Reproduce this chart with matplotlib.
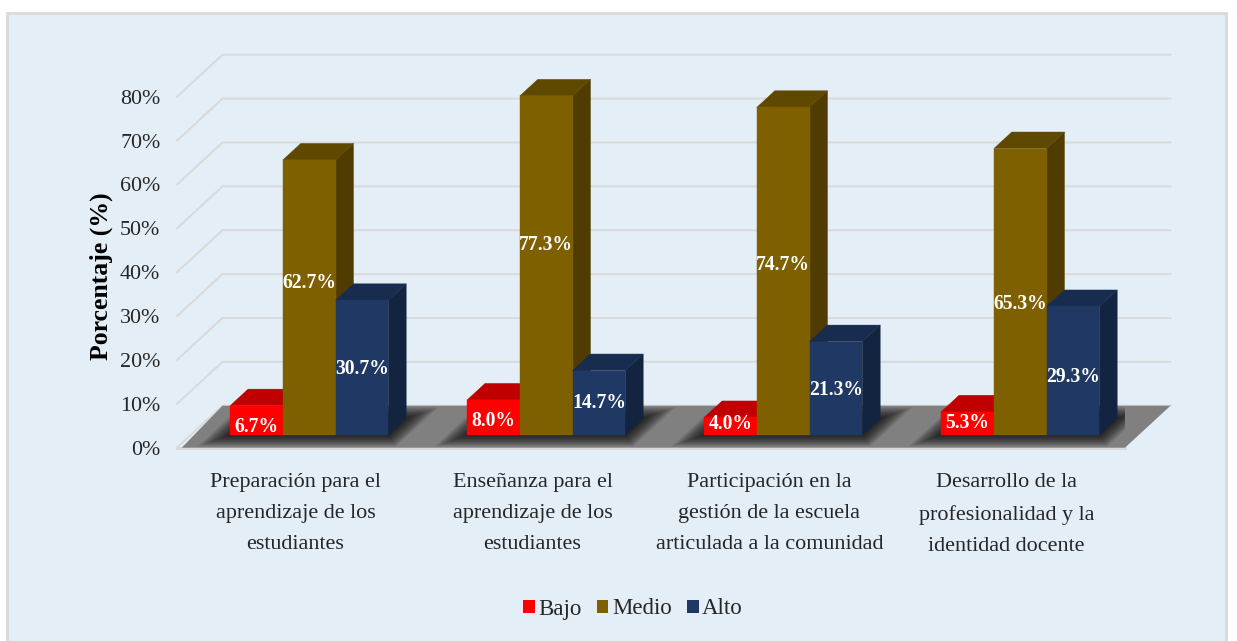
import matplotlib
matplotlib.use("Agg")
import matplotlib.pyplot as plt
from matplotlib.patches import Polygon, Rectangle, Patch

plt.rcParams['font.family'] = ['Liberation Serif', 'DejaVu Serif']

categories = ["Preparación para el\naprendizaje de los\nestudiantes",
              "Enseñanza para el\naprendizaje de los\nestudiantes",
              "Participación en la\ngestión de la escuela\narticulada a la comunidad",
              "Desarrollo de la\nprofesionalidad y la\nidentidad docente"]
bajo = [6.7, 8.0, 4.0, 5.3]
medio = [62.7, 77.3, 74.7, 65.3]
alto = [30.7, 14.7, 21.3, 29.3]
series_names = ["Bajo", "Medio", "Alto"]
y_ticks = [0, 10, 20, 30, 40, 50, 60, 70, 80]

W, H = 1237, 641
BG = '#E3EEF7'
GRID = '#D9D9D9'
FACE = ['#FF0000', '#7F6000', '#1F3864']
TOP = ['#C00000', '#5F4800', '#182C4F']
SIDE = ['#A80000', '#503C00', '#132441']
# small manual nudges of the value labels (in % units), as seen in the reference
NUDGE = [[-1.5, -0.7, 0.5, 0.0],
         [3.2, 4.6, 1.4, -2.8],
         [-0.2, 0.0, -0.3, -1.4]]

DX, DY = 0.192, 9.57        # oblique depth vector of the whole floor
Z0, Z1 = 0.302, 0.695       # bar front / back depth
BAR = 0.2224


def pr(x, y, z):
    return (x + z * DX, y + z * DY)


def poly(pts, color, z):
    ax.add_patch(Polygon(pts, facecolor=color, edgecolor=color, linewidth=0.3,
                         clip_on=False, zorder=z))


fig = plt.figure(figsize=(W / 100, H / 100), dpi=100, facecolor='white')
fig.add_artist(Rectangle((7 / W, -0.02), (1226 - 7) / W, 1.02 - 13 / H,
                         transform=fig.transFigure, facecolor=BG,
                         edgecolor=GRID, linewidth=2, zorder=-5))
ax = fig.add_axes([177 / W, 1 - 447.7 / H, (1125 - 177) / W, 351 / H])
ax.patch.set_alpha(0)
ax.set_xlim(0, 4)
ax.set_ylim(0, 80)
for s in ax.spines.values():
    s.set_visible(False)

# walls / gridlines
for v in y_ticks:
    a, b, c = pr(0, v, 0), pr(0, v, 1), pr(4, v, 1)
    ax.plot([a[0], b[0], c[0]], [a[1], b[1], c[1]], color=GRID, lw=1.4,
            clip_on=False, zorder=1, solid_joinstyle='miter')
ax.plot([0, 4], [0, 0], color=GRID, lw=2.2, clip_on=False, zorder=1)

# floor
floor = Polygon([pr(0.02, 0, 0), pr(4, 0, 0), pr(4, 0, 1), pr(0, 0, 1)],
                closed=True, facecolor='#808080', edgecolor='none',
                clip_on=False, zorder=2)
ax.add_patch(floor)

# soft shadow on the floor around each group
for i in range(4):
    xl = i + 0.5 - 1.5 * BAR
    xr = i + 0.5 + 1.5 * BAR
    steps = 14
    for k in range(steps):
        e = (steps - k) / steps
        ex, ez = 0.085 * e, 0.27 * e
        sh = Polygon([pr(xl - ex, 0, Z0 - ez), pr(xr + ex, 0, Z0 - ez),
                      pr(xr + ex, 0, Z1 + ez), pr(xl - ex, 0, Z1 + ez)],
                     closed=True, facecolor='black', alpha=0.075,
                     edgecolor='none', zorder=2.5)
        ax.add_patch(sh)
        sh.set_clip_path(floor)

# 3D bars
for s, vals in enumerate([bajo, medio, alto]):
    for i, v in enumerate(vals):
        x0 = i + 0.5 + (s - 1.5) * BAR
        x1 = x0 + BAR
        z = 3 + s * 0.1
        poly([pr(x1, 0, Z0), pr(x1, 0, Z1), pr(x1, v, Z1), pr(x1, v, Z0)], SIDE[s], z)
        poly([pr(x0, v, Z0), pr(x1, v, Z0), pr(x1, v, Z1), pr(x0, v, Z1)], TOP[s], z)
        poly([pr(x0, 0, Z0), pr(x1, 0, Z0), pr(x1, v, Z0), pr(x0, v, Z0)], FACE[s], z)
        lx, ly = pr(x0 + BAR / 2, v / 2 + NUDGE[s][i], Z0)
        ax.text(lx, ly, f"{v:.1f}%", color='white', fontsize=14.1, fontweight='bold',
                ha='center', va='center', zorder=5, clip_on=False)

# axes text
ax.set_yticks(y_ticks)
ax.set_yticklabels([f"{v}%" for v in y_ticks], fontsize=15.8, color='#262626')
ax.set_xticks([i + 0.5 for i in range(4)])
ax.set_xticklabels(categories, fontsize=15.9, color='#262626', linespacing=1.85)
ax.tick_params(axis='y', length=0, pad=12)
ax.tick_params(axis='x', length=0, pad=18.5)
ax.set_ylabel("Porcentaje (%)", fontsize=18.5, fontweight='bold', color='black')
ax.yaxis.set_label_coords((113 - 177) / 948, (447.7 - 276) / 351)

handles = [Patch(facecolor=c, edgecolor='none') for c in FACE]
fig.legend(handles, series_names, loc='center', bbox_to_anchor=(633 / W, 1 - 609 / H),
           ncol=3, frameon=False, fontsize=16.5, handlelength=0.5, handleheight=0.5,
           handletextpad=0.15, columnspacing=0.68, labelcolor='#262626')

fig.savefig('out.png', dpi=100)
